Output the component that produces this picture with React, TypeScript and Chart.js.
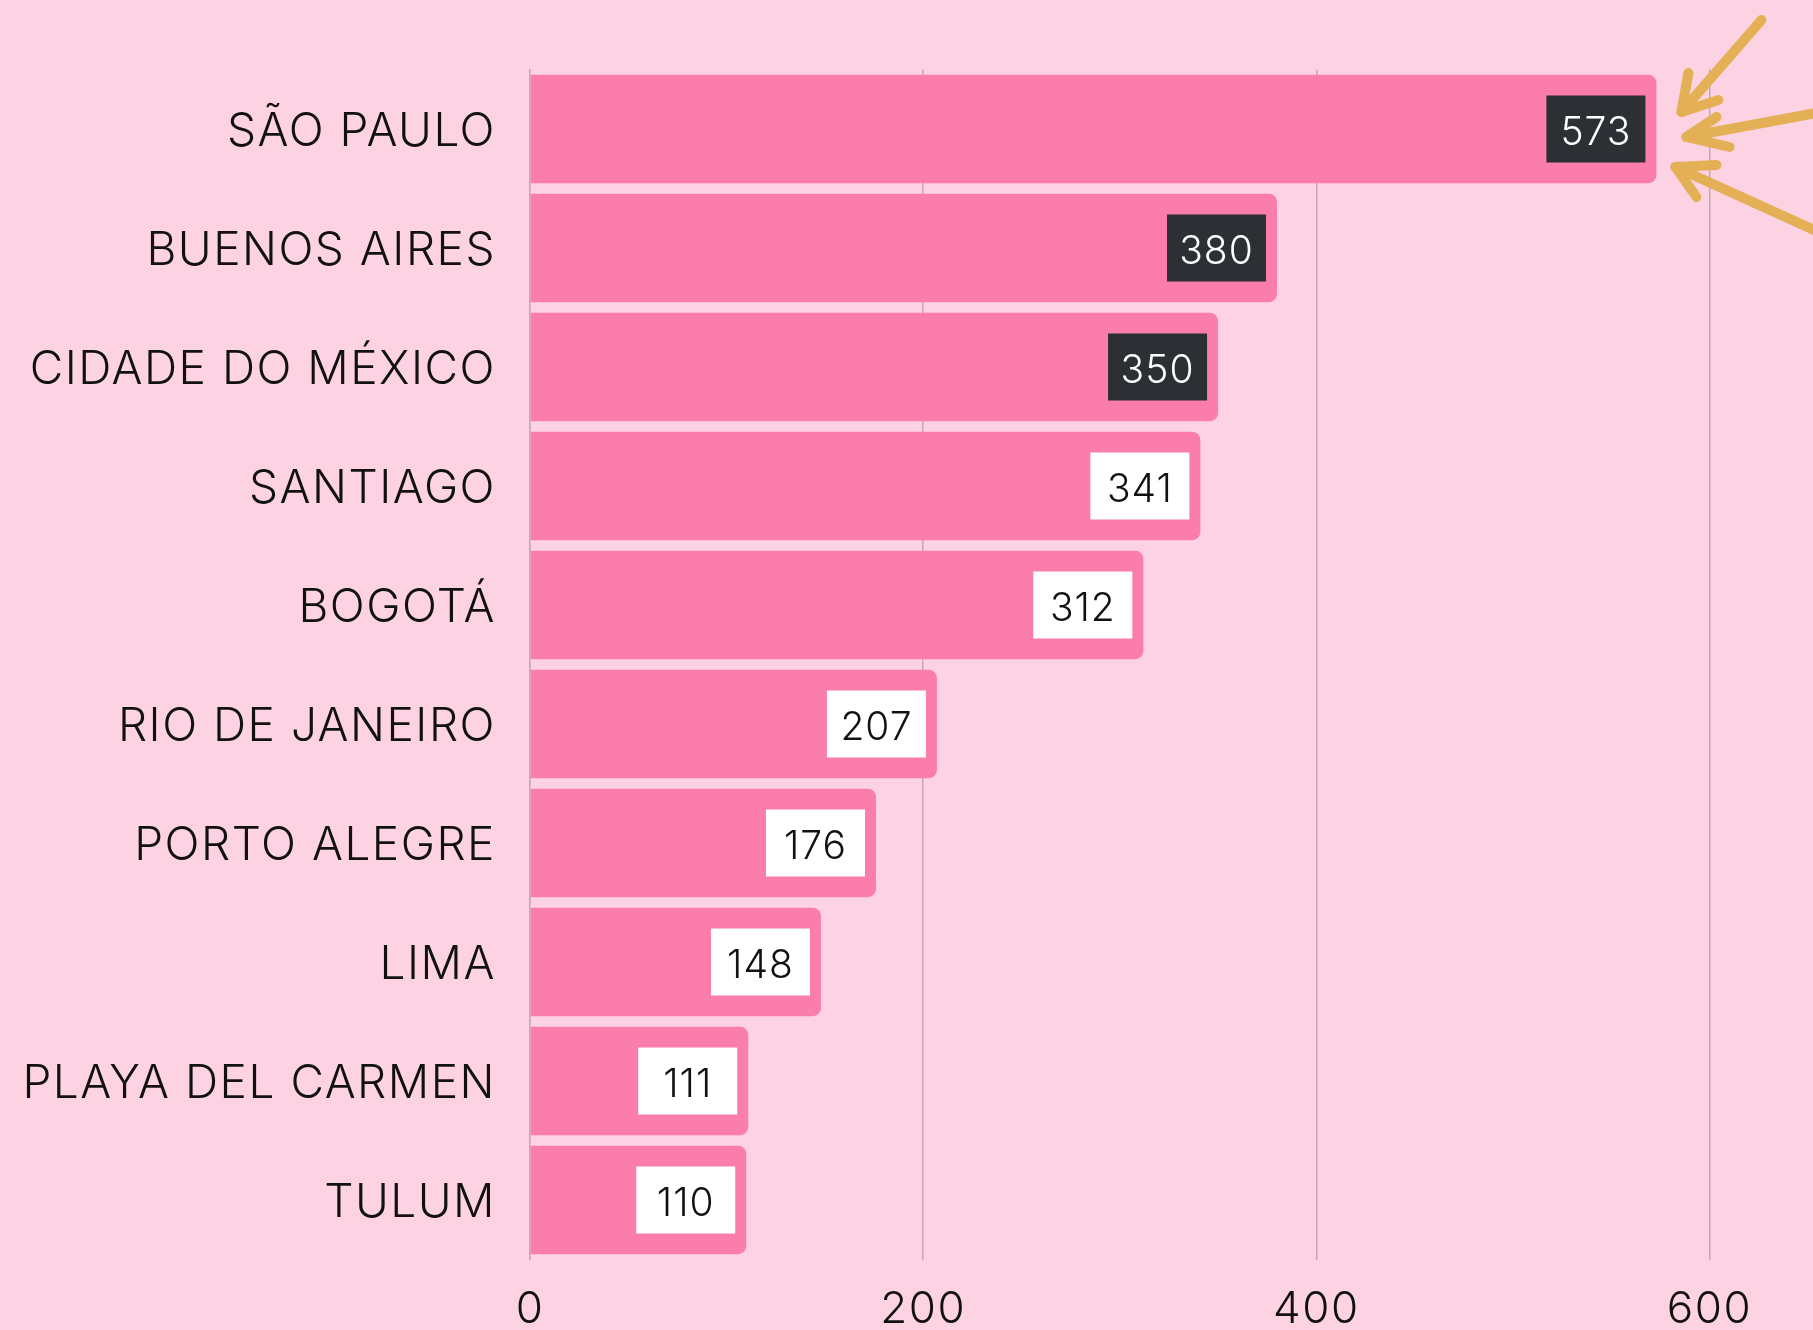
import React, { useEffect, useRef } from "react";
import { Chart, registerables } from "chart.js";

Chart.register(...registerables);

const categories = [
  "SÃO PAULO",
  "BUENOS AIRES",
  "CIDADE DO MÉXICO",
  "SANTIAGO",
  "BOGOTÁ",
  "RIO DE JANEIRO",
  "PORTO ALEGRE",
  "LIMA",
  "PLAYA DEL CARMEN",
  "TULUM",
];
const values = [573, 380, 350, 341, 312, 207, 176, 148, 111, 110];
const xTickValues = [0, 200, 400, 600];

const BG = "#fdd3e3";
const BAR = "#fb7dab";
const DARK = "#2c2f33";
const ARROW = "#e3b055";
const GRID = "#c6a9b5";
const FONT = "Inter, 'Noto Sans', sans-serif";

const bgPlugin = {
  id: "bg",
  beforeDraw(chart: any) {
    const ctx = chart.ctx;
    ctx.fillStyle = BG;
    ctx.fillRect(0, 0, chart.width, chart.height);
    ctx.letterSpacing = "1.5px";
  },
};

const labelPlugin = {
  id: "valueBoxes",
  afterDatasetsDraw(chart: any) {
    const ctx = chart.ctx;
    const meta = chart.getDatasetMeta(0);
    const ds = chart.data.datasets[0].data as number[];
    const sorted = [...ds].sort((a, b) => b - a);
    const threshold = sorted[2];
    meta.data.forEach((el: any, i: number) => {
      const v = ds[i];
      const w = 99;
      const h = 67;
      const right = el.x - 11;
      const left = right - w;
      const top = el.y - h / 2;
      const dark = v >= threshold;
      ctx.save();
      ctx.letterSpacing = "1px";
      ctx.fillStyle = dark ? DARK : "#ffffff";
      ctx.fillRect(left, top, w, h);
      ctx.fillStyle = dark ? "#ffffff" : "#111111";
      ctx.font = `300 39px ${FONT}`;
      ctx.textAlign = "center";
      ctx.textBaseline = "middle";
      ctx.fillText(String(v), left + w / 2, top + h / 2 + 4);
      ctx.restore();
    });
  },
};

const arrowPlugin = {
  id: "arrows",
  afterDraw(chart: any) {
    const meta = chart.getDatasetMeta(0);
    const el: any = meta.data[0];
    if (!el) return;
    const bx = el.x;
    const by = el.y;
    const ctx = chart.ctx;
    ctx.save();
    ctx.strokeStyle = ARROW;
    ctx.lineWidth = 10;
    ctx.lineCap = "round";
    ctx.lineJoin = "round";
    const arrows = [
      [[105, -109], [25, -17], [32, -56], [62, -29]],
      [[160, -16], [30, 8], [60, -12], [73, 18]],
      [[160, 102], [19, 38], [60, 36], [40, 68]],
    ];
    arrows.forEach(([s, t, h1, h2]) => {
      ctx.beginPath();
      ctx.moveTo(bx + s[0], by + s[1]);
      ctx.lineTo(bx + t[0], by + t[1]);
      ctx.stroke();
      ctx.beginPath();
      ctx.moveTo(bx + h1[0], by + h1[1]);
      ctx.lineTo(bx + t[0], by + t[1]);
      ctx.lineTo(bx + h2[0], by + h2[1]);
      ctx.stroke();
    });
    ctx.restore();
  },
};

export default function App() {
  const ref = useRef<HTMLCanvasElement | null>(null);

  useEffect(() => {
    document.body.style.margin = "0";
    document.body.style.background = BG;
    if (!ref.current) return;
    const chart = new Chart(ref.current, {
      type: "bar",
      data: {
        labels: categories,
        datasets: [
          {
            data: values,
            backgroundColor: BAR,
            borderWidth: 0,
            borderRadius: 8,
            borderSkipped: "start",
            categoryPercentage: 1,
            barPercentage: 0.91,
          },
        ],
      },
      options: {
        indexAxis: "y",
        responsive: false,
        animation: false,
        maintainAspectRatio: false,
        layout: { padding: { top: 69.5, right: 103.5, left: 0, bottom: 0 } },
        plugins: {
          legend: { display: false },
          tooltip: { enabled: false },
        },
        scales: {
          x: {
            min: 0,
            max: 600,
            afterBuildTicks(axis: any) {
              axis.ticks = xTickValues.map((v) => ({ value: v }));
            },
            afterFit(axis: any) {
              axis.height = 70.5;
            },
            grid: {
              color: GRID,
              lineWidth: 1.5,
              drawTicks: false,
            },
            border: { display: false },
            ticks: {
              padding: 24,
              color: "#111111",
              font: { family: FONT, size: 44, weight: 300 },
              maxRotation: 0,
            },
          },
          y: {
            afterFit(axis: any) {
              axis.width = 530;
            },
            grid: { display: false, drawTicks: false },
            border: { display: true, color: GRID, width: 1.5 },
            ticks: {
              padding: 34,
              labelOffset: 3.5,
              color: "#111111",
              font: { family: FONT, size: 46, weight: 300 },
            },
          },
        },
      },
      plugins: [bgPlugin, labelPlugin, arrowPlugin],
    });
    return () => chart.destroy();
  }, []);

  return (
    <div style={{ width: 1813, height: 1330 }}>
      <canvas ref={ref} width={1813} height={1330} style={{ display: "block" }} />
    </div>
  );
}
